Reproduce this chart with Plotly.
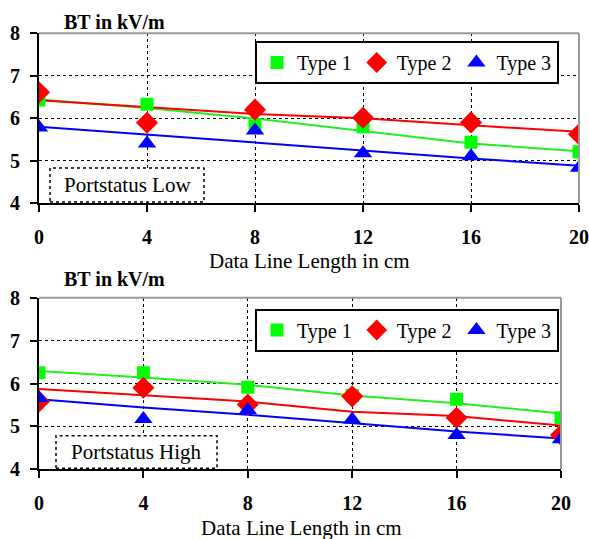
import plotly.graph_objects as go

# ---------------- data ----------------
x_len = [0, 4, 8, 12, 16, 20]
x_ticks = [0, 4, 8, 12, 16, 20]
y_ticks = [4, 5, 6, 7, 8]
series_names = ["Type 1", "Type 2", "Type 3"]

# Portstatus Low (top)
low_type1 = [6.43, 6.33, 5.82, 5.80, 5.43, 5.21]
low_type2 = [6.61, 5.89, 6.20, 6.01, 5.90, 5.62]
low_type3 = [5.78, 5.40, 5.71, 5.17, 5.10, 4.83]
# trend lines
low_trend1 = [6.44, 6.24, 5.99, 5.70, 5.40, 5.22]
low_trend2 = [6.42, 6.26, 6.10, 6.00, 5.83, 5.68]
low_trend3 = [5.80, 5.61, 5.43, 5.24, 5.05, 4.88]

# Portstatus High (bottom)
high_type1 = [6.25, 6.25, 5.91, 5.72, 5.63, 5.20]
high_type2 = [5.58, 5.90, 5.51, 5.70, 5.20, 4.80]
high_type3 = [5.66, 5.17, 5.38, 5.16, 4.80, 4.70]
high_trend1 = [6.29, 6.14, 5.97, 5.72, 5.54, 5.30]
high_trend2 = [5.87, 5.73, 5.58, 5.34, 5.24, 5.02]
high_trend3 = [5.63, 5.44, 5.27, 5.07, 4.88, 4.72]

colors = ["#00FF00", "#FF0000", "#0000FF"]
line_colors = ["#22EE22", "#FF0000", "#0000FF"]
symbols = ["square", "diamond", "triangle-up"]
msizes = [13, 17, 16]

W, H = 589, 539
FONT = "Liberation Serif"

def px_x(p):
    return p / W

def px_y(p):
    return 1 - p / H

fig = go.Figure()

panels = [
    dict(xa="x", ya="y", legend="legend",
         pts=[low_type1, low_type2, low_type3],
         trends=[low_trend1, low_trend2, low_trend3]),
    dict(xa="x2", ya="y2", legend="legend2",
         pts=[high_type1, high_type2, high_type3],
         trends=[high_trend1, high_trend2, high_trend3]),
]

for p in panels:
    for i in range(3):
        fig.add_trace(go.Scatter(
            x=x_len, y=p["trends"][i], mode="lines",
            line=dict(color=line_colors[i], width=2),
            xaxis=p["xa"], yaxis=p["ya"], showlegend=False, hoverinfo="skip"))
    for i in range(3):
        fig.add_trace(go.Scatter(
            x=x_len, y=p["pts"][i], mode="markers", name=series_names[i],
            marker=dict(color=colors[i], symbol=symbols[i], size=msizes[i],
                        line=dict(width=0)),
            xaxis=p["xa"], yaxis=p["ya"], legend=p["legend"]))

# geometry (pixels)
top = dict(x0=39, x1=579, y0=33.3, y1=203)
bot = dict(x0=39, x1=561, y0=297.7, y1=469.3)

axis_common = dict(
    showline=True, linecolor="black", linewidth=2,
    ticks="outside", ticklen=7, tickwidth=2, tickcolor="black",
    showgrid=True, gridcolor="black", griddash="dot", gridwidth=1,
    zeroline=False, automargin=False,
    tickfont=dict(family=FONT, size=20, color="black", weight="bold"),
)

fig.update_layout(
    width=W, height=H,
    margin=dict(l=0, r=0, t=0, b=0, autoexpand=False),
    paper_bgcolor="white", plot_bgcolor="white",
    font=dict(family=FONT, color="black"),
    xaxis=dict(domain=[px_x(top["x0"]), px_x(top["x1"])], range=[0, 20],
               tickvals=x_ticks, anchor="y", ticklabelstandoff=8, **axis_common),
    yaxis=dict(domain=[px_y(top["y1"]), px_y(top["y0"])], range=[4, 8],
               tickvals=y_ticks, anchor="x", ticklabelstandoff=6, **axis_common),
    xaxis2=dict(domain=[px_x(bot["x0"]), px_x(bot["x1"])], range=[0, 20],
                tickvals=x_ticks, anchor="y2", ticklabelstandoff=8, **axis_common),
    yaxis2=dict(domain=[px_y(bot["y1"]), px_y(bot["y0"])], range=[4, 8],
                tickvals=y_ticks, anchor="x2", ticklabelstandoff=6, **axis_common),
    legend=dict(orientation="h", x=px_x(255), y=px_y(62.5), xanchor="left", yanchor="middle",
                bgcolor="white", bordercolor="black", borderwidth=2,
                font=dict(family=FONT, size=20, color="black")),
    legend2=dict(orientation="h", x=px_x(255), y=px_y(330), xanchor="left", yanchor="middle",
                 bgcolor="white", bordercolor="black", borderwidth=2,
                 font=dict(family=FONT, size=20, color="black")),
)

shapes = []
annotations = []
for g, ytitle_y, xtitle, box, box_text in [
    (top, 22, (309, 261), (50, 168, 204, 202), "Portstatus Low"),
    (bot, 279, (301, 528), (56, 435.7, 217, 468.3), "Portstatus High"),
]:
    # grey top and right frame
    shapes.append(dict(type="line", xref="paper", yref="paper",
                       x0=px_x(g["x0"]), x1=px_x(g["x1"]), y0=px_y(g["y0"]), y1=px_y(g["y0"]),
                       line=dict(color="#999999", width=2), layer="above"))
    shapes.append(dict(type="line", xref="paper", yref="paper",
                       x0=px_x(g["x1"]), x1=px_x(g["x1"]), y0=px_y(g["y0"]), y1=px_y(g["y1"]),
                       line=dict(color="#999999", width=2), layer="above"))
    # dotted annotation box
    shapes.append(dict(type="rect", xref="paper", yref="paper",
                       x0=px_x(box[0]), x1=px_x(box[2]), y0=px_y(box[3]), y1=px_y(box[1]),
                       line=dict(color="black", width=1.5, dash="dot"),
                       fillcolor="white", layer="above"))
    annotations.append(dict(xref="paper", yref="paper",
                            x=px_x((box[0] + box[2]) / 2), y=px_y((box[1] + box[3]) / 2),
                            text=box_text, showarrow=False, xanchor="center", yanchor="middle",
                            font=dict(family=FONT, size=21, color="black")))
    annotations.append(dict(xref="paper", yref="paper", x=px_x(g["x0"] + 23), y=px_y(ytitle_y),
                            text="<b>BT in kV/m</b>", showarrow=False,
                            xanchor="left", yanchor="middle",
                            font=dict(family=FONT, size=20, color="black")))
    annotations.append(dict(xref="paper", yref="paper", x=px_x(xtitle[0]), y=px_y(xtitle[1]),
                            text="Data Line Length in cm", showarrow=False,
                            xanchor="center", yanchor="middle",
                            font=dict(family=FONT, size=21, color="black")))

fig.update_layout(shapes=shapes, annotations=annotations)
fig.write_html("out.html")
